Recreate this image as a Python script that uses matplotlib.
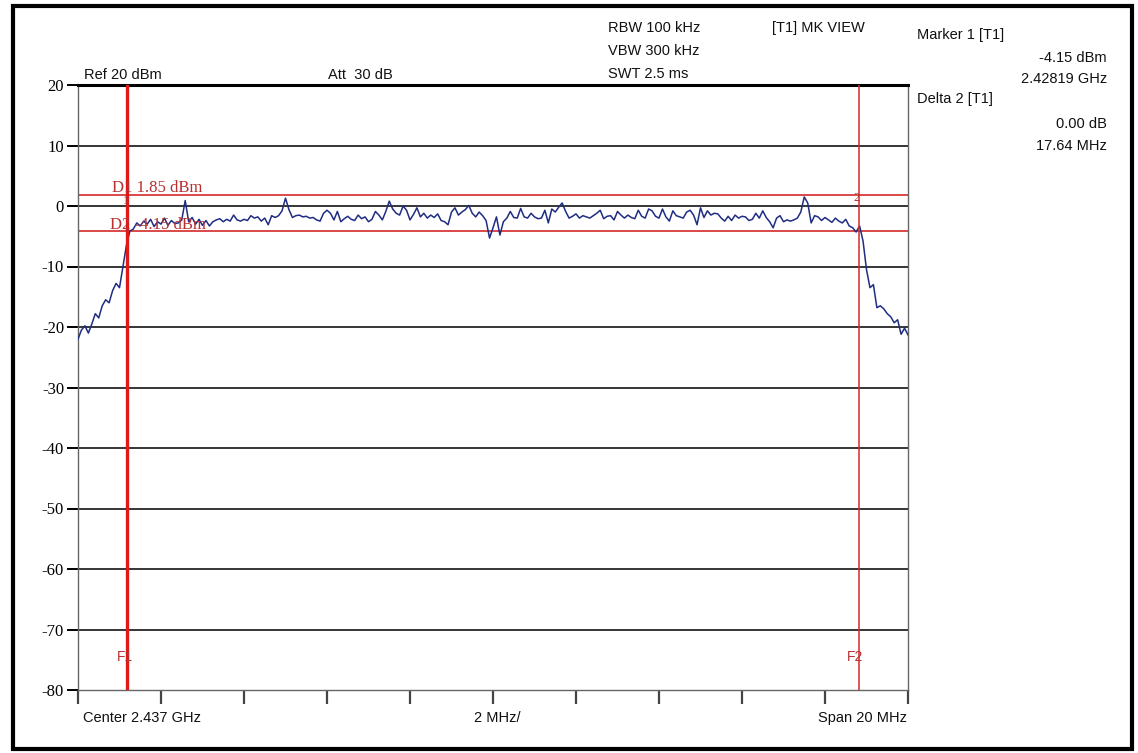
import numpy as np
import matplotlib.pyplot as plt
from matplotlib.patches import Rectangle

# ---------- DATA ----------
CENTER_GHZ = 2.437
SPAN_MHZ = 20
REF_DBM = 20
Y_TICKS = [20, 10, 0, -10, -20, -30, -40, -50, -60, -70, -80]

# marker / display-line values
F1_MHZ = -8.81          # Marker 1 at 2.42819 GHz (offset from center)
F2_MHZ = F1_MHZ + 17.64  # Delta 2 = 17.64 MHz
D1_DBM = 1.85
D2_DBM = -4.15

# trace level (dBm), equally spaced sweep points over the 20 MHz span
trace_left = [-22.0, -20.5, -19.8, -21.0, -19.5, -17.8, -18.5, -16.5, -15.5, -16.0,
              -14.0, -12.8, -13.5, -10.0, -6.5, -4.15, -3.8, -2.8, -3.3, -2.5,
              -3.0, -2.2, -3.4, -2.6, -3.0, -2.0, -3.2, -2.4, -2.9]
trace_mid1 = [-2.8, -2.3, 0.9, -2.6, -1.9, -3.0, -2.2, -3.2, -2.4, -3.3,
              -2.6, -2.3, -2.1, -2.6, -2.2, -2.5, -1.5, -2.3, -2.5, -2.2,
              -2.4, -1.6, -2.0, -1.8, -2.5, -2.0, -3.1, -1.6, -1.9, -1.6,
              -0.8, 1.3, -0.6, -1.9, -1.6, -1.5, -1.8, -1.7, -2.0, -1.9,
              -2.3, -2.5, -1.2, -0.7, -1.2, -2.3, -0.9, -2.6, -2.1, -1.7,
              -2.2, -2.4, -1.5, -2.1, -1.8, -2.6, -2.2, -0.9, -1.5, -2.3,
              -0.9, 0.8, -0.5, -1.2, -1.5, 0.0, -0.7, -2.3, -1.4, -0.3, -1.8]
trace_mid2 = [-1.2, -2.0, -1.5, -1.9, -1.3, -2.4, -2.6, -3.1, -1.0, -0.3,
              -1.5, -1.0, -0.6, 0.1, -1.2, -1.8, -1.0, -1.6, -2.4, -5.3,
              -3.6, -1.8, -4.8, -2.6, -2.0, -0.9, -1.9, -2.0, -0.4, -1.8,
              -2.0, -1.2, -1.8, -2.1, -2.0, -0.7, -2.8, -0.5, -1.0, -0.2,
              0.5, -0.9, -2.0, -1.7, -1.3, -2.0, -1.6, -1.8, -2.0, -1.6,
              -1.2, -0.7, -2.1, -1.7, -1.6, -2.3, -0.9, -1.5, -2.0, -1.5,
              -1.9, -2.1, -0.7, -1.7, -2.0, -0.5]
trace_mid3 = [-0.8, -1.7, -2.0, -0.5, -1.8, -2.5, -0.8, -1.6, -1.8, -2.0,
              -1.0, -0.7, -1.5, -3.1, -0.3, -1.9, -0.8, -1.5, -1.2, -1.3,
              -2.0, -2.5, -1.7, -2.4, -1.5, -2.0, -1.7, -1.8, -2.4, -2.2,
              -1.2, -2.0, -0.8, -1.9, -2.6, -3.6, -2.0, -1.6, -2.6, -2.3,
              -2.5, -2.3, -2.0, -1.0, 1.5, 0.5, -2.8, -1.6, -1.8, -2.4,
              -1.9, -2.3, -2.7, -2.0, -2.5, -2.8, -2.2, -3.3, -3.6, -4.3]
trace_right = [-3.3, -5.8, -10.5, -13.5, -13.0, -16.8, -16.5, -17.0, -17.8, -18.3,
               -19.3, -18.8, -21.2, -20.2, -21.3]

trace = trace_left + trace_mid1 + trace_mid2 + trace_mid3 + trace_right
freq = np.linspace(-SPAN_MHZ / 2, SPAN_MHZ / 2, len(trace))

# ---------- FIGURE ----------
W, H = 1138, 753
fig = plt.figure(figsize=(W / 100, H / 100), dpi=100)
ax = fig.add_axes([78 / W, 1 - 690 / H, 830 / W, 605 / H])

RED = "#d42a2a"
TXT_RED = "#b83030"
NAVY = "#1f2d82"
SANS = "Liberation Sans"
SERIF = "Liberation Serif"

# grid lines
for v in Y_TICKS[1:-1]:
    ax.axhline(v, color="black", lw=1.1, zorder=1)

# display lines D1 / D2
ax.axhline(D1_DBM, color=RED, lw=1.2, zorder=2)
ax.axhline(D2_DBM, color=RED, lw=1.2, zorder=2)

# frequency lines F1 / F2
ax.axvline(F1_MHZ, color="#e01818", lw=2.4, zorder=4)
ax.axvline(F2_MHZ, color=RED, lw=1.1, zorder=4)

# trace
ax.plot(freq, trace, color=NAVY, lw=1.1, zorder=3)

ax.set_xlim(-SPAN_MHZ / 2, SPAN_MHZ / 2)
ax.set_ylim(Y_TICKS[-1], Y_TICKS[0])
ax.set_xticks(np.arange(-10, 11, 2))
ax.set_xticklabels([])
ax.set_yticks(Y_TICKS)
ax.set_yticklabels([str(t) for t in Y_TICKS], fontfamily=SERIF, fontsize=12)
ax.tick_params(axis="y", direction="out", length=8, width=1.4, pad=2, colors="black")
ax.tick_params(axis="x", direction="out", length=10, width=1.6, color="#444444")

for s in ["left", "right", "bottom"]:
    ax.spines[s].set_color("#666666")
    ax.spines[s].set_linewidth(1.0)
ax.spines["top"].set_color("black")
ax.spines["top"].set_linewidth(2.2)

# labels inside plot
ax.text(-9.18, 3.0, f"D1 {D1_DBM:.2f} dBm", color=TXT_RED, fontfamily=SERIF,
        fontsize=12, va="center", ha="left", zorder=5)
ax.text(-9.23, -3.1, f"D2 {D2_DBM:.2f} dBm", color=TXT_RED, fontfamily=SERIF,
        fontsize=12, va="center", ha="left", zorder=5)
ax.text(F1_MHZ - 0.04, 0.9, "1", color=TXT_RED, fontfamily=SERIF, fontsize=9,
        ha="center", va="center", zorder=5)
ax.text(F2_MHZ - 0.08, 1.3, "2", color=TXT_RED, fontfamily=SERIF, fontsize=9,
        ha="center", va="center", zorder=5)
ax.text(F1_MHZ - 0.06, -74.5, "F1", color=TXT_RED, fontfamily=SANS, fontsize=10,
        ha="center", va="center", zorder=5)
ax.text(F2_MHZ - 0.1, -74.5, "F2", color=TXT_RED, fontfamily=SANS, fontsize=10,
        ha="center", va="center", zorder=5)


def ftxt(x, y, s, ha="left"):
    fig.text(x / W, 1 - y / H, s, ha=ha, va="center", fontfamily=SANS,
             fontsize=10.5, color="#111111")


ftxt(84, 75, f"Ref {REF_DBM} dBm")
ftxt(328, 75, "Att  30 dB")
ftxt(608, 28, "RBW 100 kHz")
ftxt(608, 51, "VBW 300 kHz")
ftxt(608, 74, "SWT 2.5 ms")
ftxt(772, 28, "[T1] MK VIEW")
ftxt(917, 35, "Marker 1 [T1]")
ftxt(1107, 58, f"{D2_DBM:.2f} dBm", ha="right")
ftxt(1107, 79, f"{CENTER_GHZ + F1_MHZ / 1000:.5f} GHz", ha="right")
ftxt(917, 99, "Delta 2 [T1]")
ftxt(1107, 124, "0.00 dB", ha="right")
ftxt(1107, 146, f"{F2_MHZ - F1_MHZ:.2f} MHz", ha="right")
ftxt(83, 718, f"Center {CENTER_GHZ} GHz")
ftxt(497, 718, f"{SPAN_MHZ // 10} MHz/", ha="center")
ftxt(907, 718, f"Span {SPAN_MHZ} MHz", ha="right")

# outer frame
fig.patches.append(Rectangle((13 / W, 1 - 749 / H), 1119 / W, 743 / H,
                             transform=fig.transFigure, fill=False,
                             edgecolor="black", lw=3))

fig.savefig("out.png", dpi=100)
